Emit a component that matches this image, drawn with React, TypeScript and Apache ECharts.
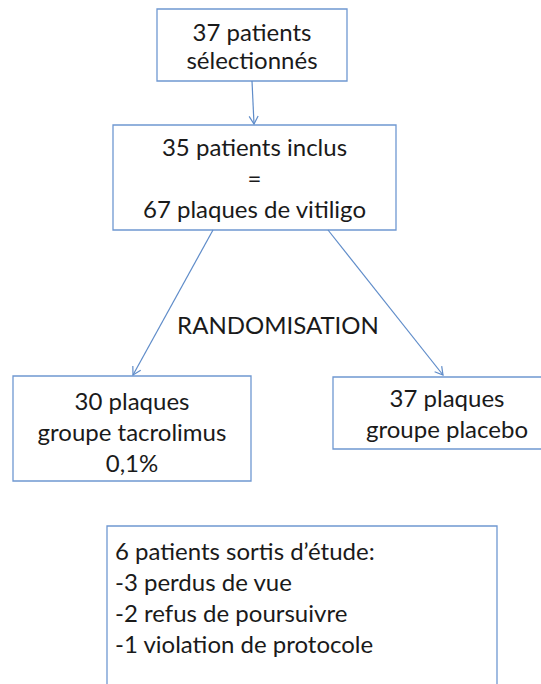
import React, { useEffect, useRef } from "react";
import * as echarts from "echarts";

const boxTexts = [
  "37 patients\nsélectionnés",
  "35 patients inclus\n=\n67 plaques de vitiligo",
  "30 plaques\ngroupe tacrolimus\n0,1%",
  "37 plaques\ngroupe placebo",
  "6 patients sortis d’étude:\n-3 perdus de vue\n-2 refus de poursuivre\n-1 violation de protocole",
];
const boxAlign = ["center", "center", "center", "center", "left"];
const labelText = ["RANDOMISATION"];

// layout (pixel space of the hidden grid)
const boxLayout = [
  [157, 9, 347, 81],
  [113, 125, 396, 230],
  [13, 376, 251, 481],
  [333, 377, 561, 449],
  [107, 526, 497, 720],
];
const arrowLayout = [
  [252, 81, 254, 124],
  [213, 230, 133, 375],
  [328, 230, 443, 375],
];
const labelLayout = [[278, 324]];

const W = 541;
const H = 684;
const FONT = "Lato, 'Noto Sans', sans-serif";
const BOX_COLOR = "#6F98D1";
const ARROW_COLOR = "#5F8CC9";
const TEXT_COLOR = "#1a1a1a";
const FS = 24;

export default function App() {
  const ref = useRef<HTMLDivElement>(null);
  useEffect(() => {
    document.body.style.margin = "0";
    const chart = echarts.init(ref.current!, null, { renderer: "svg" });
    chart.setOption({
      animation: false,
      backgroundColor: "#ffffff",
      grid: { left: 0, top: 0, right: 0, bottom: 0 },
      xAxis: { type: "value", min: 0, max: W, show: false },
      yAxis: { type: "value", min: 0, max: H, inverse: true, show: false },
      series: [
        {
          type: "custom",
          coordinateSystem: "cartesian2d",
          clip: false,
          data: boxLayout,
          renderItem: (params: any, api: any) => {
            const i = params.dataIndex;
            const p0 = api.coord([api.value(0), api.value(1)]);
            const p1 = api.coord([api.value(2), api.value(3)]);
            const align = boxAlign[i];
            const cx = (p0[0] + p1[0]) / 2;
            const cy = (p0[1] + p1[1]) / 2;
            const text =
              align === "left"
                ? {
                    type: "text",
                    style: {
                      x: p0[0] + 8,
                      y: p0[1] + 9,
                      text: boxTexts[i],
                      fill: TEXT_COLOR,
                      font: `${FS}px ${FONT}`,
                      lineHeight: 31,
                      align: "left",
                      verticalAlign: "top",
                    },
                  }
                : {
                    type: "text",
                    style: {
                      x: cx,
                      y: cy + (i === 2 ? 3 : 0),
                      text: boxTexts[i],
                      fill: TEXT_COLOR,
                      font: `${FS}px ${FONT}`,
                      lineHeight: i === 0 ? 28 : 31,
                      align: "center",
                      verticalAlign: "middle",
                    },
                  };
            return {
              type: "group",
              children: [
                {
                  type: "rect",
                  shape: { x: p0[0], y: p0[1], width: p1[0] - p0[0], height: p1[1] - p0[1] },
                  style: { fill: "#ffffff", stroke: BOX_COLOR, lineWidth: 1.3 },
                },
                text,
              ],
            };
          },
        },
        {
          type: "custom",
          coordinateSystem: "cartesian2d",
          clip: false,
          data: arrowLayout,
          renderItem: (params: any, api: any) => {
            const a = api.coord([api.value(0), api.value(1)]);
            const b = api.coord([api.value(2), api.value(3)]);
            const ang = Math.atan2(b[1] - a[1], b[0] - a[0]);
            const len = 9;
            const spread = Math.PI / 6;
            const h1 = [b[0] - len * Math.cos(ang - spread), b[1] - len * Math.sin(ang - spread)];
            const h2 = [b[0] - len * Math.cos(ang + spread), b[1] - len * Math.sin(ang + spread)];
            return {
              type: "group",
              children: [
                {
                  type: "line",
                  shape: { x1: a[0], y1: a[1], x2: b[0], y2: b[1] },
                  style: { stroke: ARROW_COLOR, lineWidth: 1.2 },
                },
                {
                  type: "polyline",
                  shape: { points: [h1, b, h2] },
                  style: { stroke: ARROW_COLOR, lineWidth: 1.2, fill: "none" },
                },
              ],
            };
          },
        },
        {
          type: "custom",
          coordinateSystem: "cartesian2d",
          clip: false,
          data: labelLayout,
          renderItem: (params: any, api: any) => {
            const p = api.coord([api.value(0), api.value(1)]);
            return {
              type: "text",
              style: {
                x: p[0],
                y: p[1],
                text: labelText[params.dataIndex],
                fill: TEXT_COLOR,
                font: `${FS}px ${FONT}`,
                align: "center",
                verticalAlign: "middle",
              },
            };
          },
        },
      ],
    });
    return () => chart.dispose();
  }, []);
  return <div ref={ref} style={{ position: "fixed", left: 0, top: 0, width: W, height: H }} />;
}
